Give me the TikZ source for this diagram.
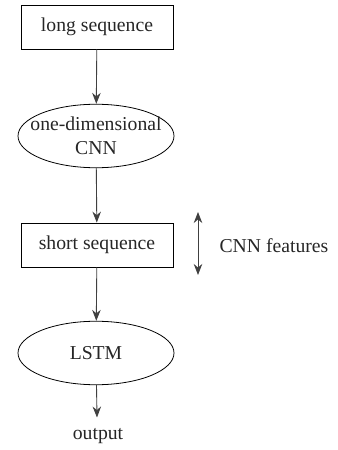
\documentclass[tikz,border=0pt]{standalone}
\usepackage{fontspec}
\setmainfont{Liberation Serif}
\newfontfamily\diagfont{Liberation Serif}
\usepackage{tikz}
\usetikzlibrary{
    arrows.meta,
    shapes.geometric,
    positioning
}
\tikzset{
    seqbox/.style={draw, line width=0.45pt, minimum width=3.04cm, minimum height=0.88cm, inner sep=0pt},
    netoval/.style={draw, ellipse, line width=0.45pt, minimum width=3.12cm, minimum height=1.27cm, inner sep=0pt},
    flow/.style={draw=black!75, line width=0.5pt, -{Stealth[length=2.2mm, width=1.7mm]}}
}

\begin{document}
\begin{tikzpicture}[font=\diagfont\fontsize{11.2}{13.6}\selectfont, text=black!85]
                                \useasboundingbox (0, 0) rectangle (6.76, 9);
                                \node[seqbox] (long) at (1.94, 8.46) {long sequence};
                                \node[netoval, label={[align=center]center:one-dimensional\\CNN}] (cnn) at (1.92, 6.28) {};
                                \node[seqbox] (short) at (1.94, 4.10) {short sequence};
                                \node[netoval, label={center:LSTM}] (lstm) at (1.92, 1.94) {};
                                \node[inner sep=0pt] (out) at (1.96, 0.28) {output};
                                \coordinate (outtop) at (1.94, 0.65);
                                \draw[flow] (long) -- (cnn);
                                \draw[flow] (cnn) -- (short);
                                \draw[flow] (short) -- (lstm);
                                \draw[flow] (lstm) -- (outtop);
                                % feature span of the short sequence
                                \coordinate (spantop) at (3.96, 4.76);
                                \coordinate (spanbot) at (3.96, 3.50);
                                \draw[draw=black!75, line width=0.5pt, {Stealth[length=2.2mm, width=1.7mm]}-{Stealth[length=2.2mm, width=1.7mm]}] (spantop) -- (spanbot);
                                \node[inner sep=0pt] (feat) at (5.48, 4.08) {CNN features};
                            \end{tikzpicture}
\end{document}
